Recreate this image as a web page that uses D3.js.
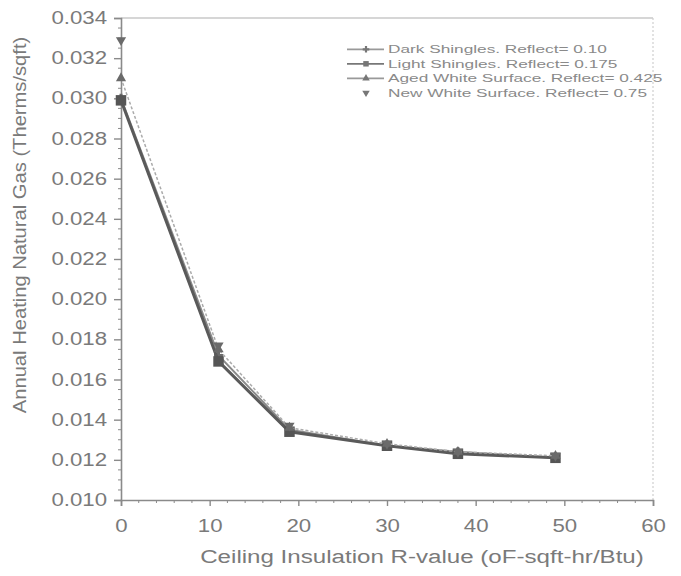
<!DOCTYPE html>
<html><head><meta charset="utf-8">
<script src="https://cdn.jsdelivr.net/npm/d3@7"></script>
<style>body{margin:0;background:#fff;} text{font-family:Arial,"Liberation Sans",sans-serif;}</style>
</head><body><svg id="c" width="681" height="576"></svg>
<script>
const rValues = [0, 11, 19, 30, 38, 49];
const darkShingles = [0.0300, 0.0172, 0.0135, 0.0127, 0.0124, 0.0121];
const lightShingles = [0.0299, 0.0169, 0.0134, 0.0127, 0.0123, 0.0121];
const agedWhite = [0.0310, 0.0175, 0.0136, 0.0128, 0.0124, 0.0122];
const newWhite = [0.0329, 0.0177, 0.0137, 0.0128, 0.0124, 0.0122];
const seriesNames = ["Dark Shingles. Reflect= 0.10", "Light Shingles. Reflect= 0.175", "Aged White Surface. Reflect= 0.425", "New White Surface. Reflect= 0.75"];
const xTicks = [0, 10, 20, 30, 40, 50, 60];
const yTicks = [0.010, 0.012, 0.014, 0.016, 0.018, 0.020, 0.022, 0.024, 0.026, 0.028, 0.030, 0.032, 0.034];

const svg = d3.select("#c");
const L = 121, R = 653, T = 18, B = 500;
const x = d3.scaleLinear().domain([0, 60]).range([L, R]);
const y = d3.scaleLinear().domain([0.010, 0.034]).range([B, T]);
const axisCol = "#8a8a8a";
const textCol = "#7a7a7a";

// frame
svg.append("line").attr("x1", L).attr("x2", R).attr("y1", T).attr("y2", T).attr("stroke", "#c8c8c8").attr("stroke-width", 1.5);
svg.append("line").attr("x1", R).attr("x2", R).attr("y1", T).attr("y2", B).attr("stroke", "#cfcfcf").attr("stroke-width", 1.2).attr("stroke-dasharray", "2,2");

// y axis
const sxT = 1.27;
const yAx = svg.append("g").attr("transform", `translate(${L},0)`)
  .call(d3.axisLeft(y).tickValues(yTicks).tickFormat(d => d3.format(".3f")(d)).tickSize(7).tickPadding(7));
yAx.select(".domain").attr("stroke", axisCol).attr("stroke-width", 1.6);
yAx.selectAll(".tick line").attr("stroke", axisCol).attr("stroke-width", 1.4);
yAx.selectAll(".tick text").attr("fill", textCol).attr("font-size", 17.5)
  .attr("x", -14 / sxT).attr("transform", `scale(${sxT},1)`);
// minor y
const yMinor = d3.range(0.0105, 0.034, 0.0005).filter(v => Math.abs(v * 500 - Math.round(v * 500)) > 1e-6);
svg.append("g").selectAll("line").data(yMinor).join("line")
  .attr("x1", L - 3).attr("x2", L).attr("y1", d => y(d)).attr("y2", d => y(d))
  .attr("stroke", axisCol).attr("stroke-width", 1);

// x axis
const xAx = svg.append("g").attr("transform", `translate(0,${B})`)
  .call(d3.axisBottom(x).tickValues(xTicks).tickFormat(d3.format("d")).tickSize(6).tickPadding(14));
xAx.select(".domain").attr("stroke", axisCol).attr("stroke-width", 1.6);
xAx.selectAll(".tick line").attr("stroke", axisCol).attr("stroke-width", 1.4);
xAx.selectAll(".tick text").attr("fill", textCol).attr("font-size", 17.5).attr("transform", `scale(${sxT},1)`);
const xMinor = d3.range(2, 60, 2).filter(v => v % 10 !== 0);
svg.append("g").selectAll("line").data(xMinor).join("line")
  .attr("x1", d => x(d)).attr("x2", d => x(d)).attr("y1", B).attr("y2", B + 3)
  .attr("stroke", axisCol).attr("stroke-width", 1);

// axis titles
svg.append("text").attr("transform", `translate(422,563) scale(1.27,1)`).attr("text-anchor", "middle")
  .attr("fill", textCol).attr("font-size", 19).text("Ceiling Insulation R-value (oF-sqft-hr/Btu)");
svg.append("text").attr("transform", `translate(26,225) rotate(-90) scale(1.12,1)`).attr("text-anchor", "middle")
  .attr("fill", textCol).attr("font-size", 18).text("Annual Heating Natural Gas (Therms/sqft)");

// series
const data = [darkShingles, lightShingles, agedWhite, newWhite];
const styles = [
  {stroke: "#8a8a8a", width: 2, dash: null, marker: "plus", line: true},
  {stroke: "#5a5a5a", width: 3, dash: null, marker: "square", line: true},
  {stroke: "#ababab", width: 1.5, dash: "3,2", marker: "triangle", line: true},
  {stroke: "#777", width: 0, dash: null, marker: "triangleDown", line: false}
];
const line = d3.line().x((d, i) => x(rValues[i])).y(d => y(d));
const sym = {plus: d3.symbolCross, square: d3.symbolSquare, triangle: d3.symbolTriangle, triangleDown: d3.symbolTriangle};
data.forEach((vals, si) => {
  const st = styles[si];
  if (st.line) {
    svg.append("path").datum(vals).attr("d", line).attr("fill", "none")
      .attr("stroke", st.stroke).attr("stroke-width", st.width).attr("stroke-dasharray", st.dash);
  }
  svg.append("g").selectAll("path").data(vals).join("path")
    .attr("transform", (d, i) => `translate(${x(rValues[i])},${y(d)})` + (st.marker === "triangleDown" ? " rotate(180)" : ""))
    .attr("d", d3.symbol().type(sym[st.marker]).size(st.marker === "square" ? 110 : 45))
    .attr("fill", si === 1 ? "#555" : "#6a6a6a");
});

// legend
const leg = svg.append("g");
const ly0 = 49.3, ldy = 14.5;
seriesNames.forEach((name, i) => {
  const st = styles[i];
  const ly = ly0 + i * ldy;
  if (st.line) {
    leg.append("line").attr("x1", 347).attr("x2", 384).attr("y1", ly).attr("y2", ly)
      .attr("stroke", i === 1 ? "#777" : "#999").attr("stroke-width", 1.8);
  }
  leg.append("path").attr("transform", `translate(366,${ly})` + (st.marker === "triangleDown" ? " rotate(180)" : ""))
    .attr("d", d3.symbol().type(sym[st.marker]).size(st.marker === "square" ? 30 : 24)).attr("fill", "#777");
  leg.append("text").attr("transform", `translate(388,${ly + 4}) scale(1.5,1)`).attr("fill", "#8a8a8a")
    .attr("font-size", 11.5).text(name);
});
</script></body></html>
